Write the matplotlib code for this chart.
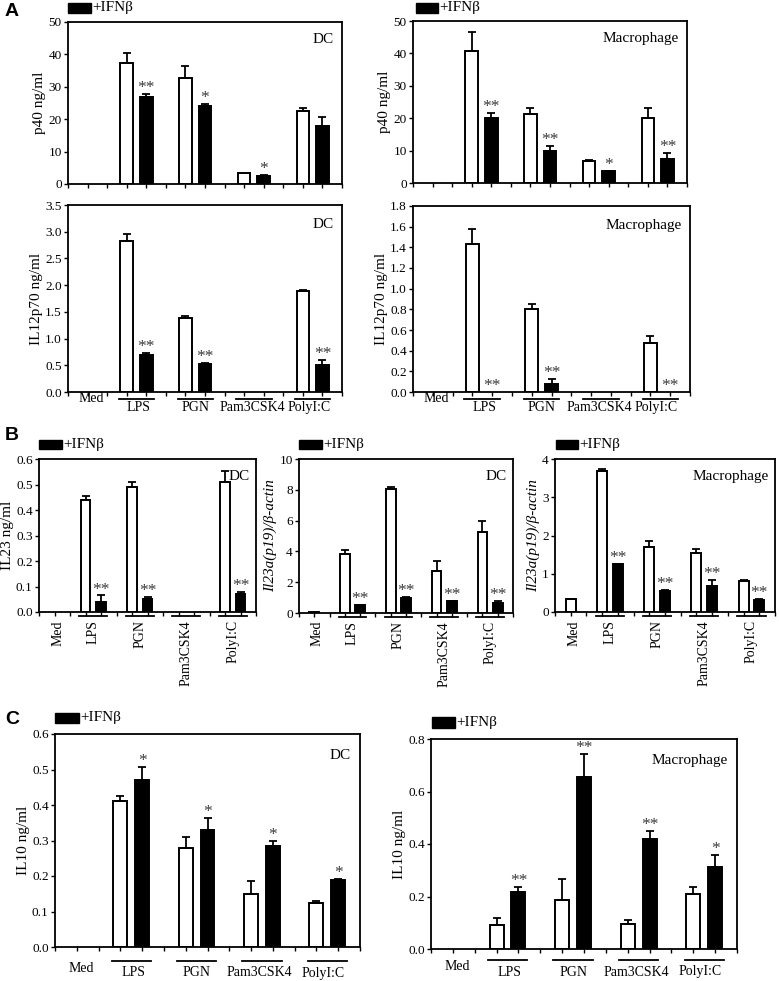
import matplotlib
matplotlib.use('Agg')
import matplotlib.pyplot as plt
from matplotlib.patches import Rectangle

W, H = 779, 981
plt.rcParams['font.family'] = ['Liberation Serif', 'DejaVu Serif']

categories = ["Med", "LPS", "PGN", "Pam3CSK4", "PolyI:C"]
legend_label = "+IFNβ"

# ---- Panel A: p40 ----
p40_dc_ctrl = [0, 37.3, 32.7, 3.5, 22.5]
p40_dc_ctrl_err = [0, 3.0, 3.8, 0, 1.1]
p40_dc_ifn = [0, 26.9, 24.0, 2.6, 18.0]
p40_dc_ifn_err = [0, 0.9, 0.6, 0.3, 2.6]
p40_dc_sig = ["", "**", "*", "*", ""]

p40_mac_ctrl = [0, 40.8, 21.3, 6.8, 20.1]
p40_mac_ctrl_err = [0, 5.9, 1.7, 0.3, 2.9]
p40_mac_ifn = [0, 20.0, 10.0, 3.6, 7.4]
p40_mac_ifn_err = [0, 1.5, 1.5, 0.2, 1.8]
p40_mac_sig = ["", "**", "**", "*", "**"]

# ---- Panel A: IL12p70 ----
il12_dc_ctrl = [0, 2.83, 1.39, 0, 1.89]
il12_dc_ctrl_err = [0, 0.12, 0.03, 0, 0.01]
il12_dc_ifn = [0, 0.69, 0.525, 0, 0.51]
il12_dc_ifn_err = [0, 0.04, 0.015, 0, 0.09]
il12_dc_sig = ["", "**", "**", "", "**"]

il12_mac_ctrl = [0, 1.43, 0.80, 0, 0.474]
il12_mac_ctrl_err = [0, 0.15, 0.05, 0, 0.066]
il12_mac_ifn = [0, 0, 0.077, 0, 0]
il12_mac_ifn_err = [0, 0, 0.053, 0, 0]
il12_mac_sig = ["", "**", "**", "", "**"]

# ---- Panel B ----
il23_dc_ctrl = [0, 0.439, 0.491, 0, 0.51]
il23_dc_ctrl_err = [0, 0.016, 0.017, 0, 0.043]
il23_dc_ifn = [0, 0.040, 0.052, 0, 0.069]
il23_dc_ifn_err = [0, 0.025, 0.008, 0, 0.011]
il23_dc_sig = ["", "**", "**", "", "**"]

p19_dc_ctrl = [0.08, 3.84, 8.03, 2.73, 5.29]
p19_dc_ctrl_err = [0, 0.28, 0.17, 0.63, 0.70]
p19_dc_ifn = [0, 0.50, 0.98, 0.76, 0.65]
p19_dc_ifn_err = [0, 0.04, 0.06, 0.02, 0.13]
p19_dc_sig = ["", "**", "**", "**", "**"]

p19_mac_ctrl = [0.33, 3.68, 1.70, 1.53, 0.82]
p19_mac_ctrl_err = [0.02, 0.05, 0.16, 0.11, 0.02]
p19_mac_ifn = [0, 1.25, 0.54, 0.69, 0.31]
p19_mac_ifn_err = [0, 0.01, 0.03, 0.15, 0.04]
p19_mac_sig = ["", "**", "**", "**", "**"]

# ---- Panel C: IL10 ----
il10_dc_ctrl = [0, 0.411, 0.279, 0.149, 0.124]
il10_dc_ctrl_err = [0, 0.013, 0.032, 0.037, 0.005]
il10_dc_ifn = [0, 0.471, 0.330, 0.285, 0.188]
il10_dc_ifn_err = [0, 0.035, 0.033, 0.015, 0.003]
il10_dc_sig = ["", "*", "*", "*", "*"]

il10_mac_ctrl = [0, 0.093, 0.185, 0.095, 0.209]
il10_mac_ctrl_err = [0, 0.024, 0.082, 0.017, 0.027]
il10_mac_ifn = [0, 0.216, 0.657, 0.420, 0.311]
il10_mac_ifn_err = [0, 0.021, 0.085, 0.030, 0.048]
il10_mac_sig = ["", "**", "**", "**", "*"]

# ---- layout ----
group_pos = [1, 3, 6, 9, 12]
label_x = [1.2, 3.6, 6.5, 9.4, 12.3]

fig = plt.figure(figsize=(W / 100, H / 100), dpi=100)


def add_ax(l, t, r, b):
    return fig.add_axes([l / W, 1 - b / H, (r - l) / W, (b - t) / H])


def legend_at(x0, y0, x1, y1):
    fig.patches.append(Rectangle((x0 / W, 1 - y1 / H), (x1 - x0) / W, (y1 - y0) / H,
                                 transform=fig.transFigure, facecolor='black',
                                 edgecolor='black'))
    fig.text((x1 + 1) / W, 1 - (y0 + y1) / 2 / H, legend_label, fontsize=11,
             va='center', ha='left')


def panel(rect, ctrl, ctrl_err, ifn, ifn_err, sig, ylim, yticks, fmt, ylabel,
          cell, italic=False, xmode=None, offs=None):
    l, t, r, b = rect
    ax = add_ax(l, t, r, b)
    hpx = b - t
    bw = 0.64
    for i in range(len(categories)):
        xo = group_pos[i]
        xf = xo + 1
        if ctrl[i] > 0:
            ax.bar(xo, ctrl[i], width=bw, facecolor='white', edgecolor='black',
                   linewidth=1.4, zorder=2)
            if ctrl_err[i] > 0:
                ax.errorbar(xo, ctrl[i], yerr=[[0], [ctrl_err[i]]], fmt='none',
                            ecolor='black', elinewidth=1.3, capsize=3,
                            capthick=1.3, zorder=3)
        if ifn[i] > 0:
            ax.bar(xf, ifn[i], width=bw, facecolor='black', edgecolor='black',
                   linewidth=1.4, zorder=2)
            if ifn_err[i] > 0:
                ax.errorbar(xf, ifn[i], yerr=[[0], [ifn_err[i]]], fmt='none',
                            ecolor='black', elinewidth=1.3, capsize=3,
                            capthick=1.3, zorder=3)
        if sig[i]:
            top = ifn[i] + ifn_err[i]
            ax.annotate(sig[i], (xf, top), xytext=(0, -1.5), textcoords='offset points',
                        ha='center', va='bottom', fontsize=12.5, color='#3a3a3a')
    ax.set_xlim(0, 14)
    ax.set_xticks(range(15))
    ax.set_xticklabels([])
    ax.set_ylim(*ylim)
    ax.set_yticks(yticks)
    ax.set_yticklabels([fmt.format(v) for v in yticks], fontsize=9.5)
    ax.tick_params(axis='both', direction='out', length=3, width=1.0, pad=1.5)
    for s in ax.spines.values():
        s.set_linewidth(1.3)
    ax.set_ylabel(ylabel, fontsize=11, style='italic' if italic else 'normal',
                  labelpad=1.5)
    ax.text(0.97, 0.93, cell, transform=ax.transAxes, ha='right', va='top',
            fontsize=11)
    tr = ax.get_xaxis_transform()
    if xmode == 'h':
        d_line, d_med, d_lab = offs
        for i, cat in enumerate(categories):
            if i == 0:
                ax.text(label_x[i], -d_med / hpx, cat, transform=tr, ha='center',
                        va='center', fontsize=10)
            else:
                xo = group_pos[i]
                ax.plot([xo - 0.4, xo + 1.4], [-d_line / hpx] * 2, transform=tr,
                        color='black', lw=1.3, clip_on=False)
                ax.text(label_x[i], -d_lab / hpx, cat, transform=tr, ha='center',
                        va='center', fontsize=10)
    elif xmode == 'v':
        for i, cat in enumerate(categories):
            xo = group_pos[i]
            if i > 0:
                ax.plot([xo - 0.4, xo + 1.4], [-4 / hpx] * 2, transform=tr,
                        color='black', lw=1.3, clip_on=False)
                lx = xo + 0.5
            else:
                lx = 1.2
            ax.text(lx, -8 / hpx, cat, transform=tr, ha='center', va='top',
                    rotation=90, fontsize=10)
    return ax


# Panel A
panel((68, 22, 342, 184), p40_dc_ctrl, p40_dc_ctrl_err, p40_dc_ifn, p40_dc_ifn_err,
      p40_dc_sig, (0, 50), [0, 10, 20, 30, 40, 50], "{:.0f}", "p40 ng/ml", "DC")
panel((413, 21, 687, 183), p40_mac_ctrl, p40_mac_ctrl_err, p40_mac_ifn,
      p40_mac_ifn_err, p40_mac_sig, (0, 50), [0, 10, 20, 30, 40, 50], "{:.0f}",
      "p40 ng/ml", "Macrophage")
panel((68, 205, 342, 392), il12_dc_ctrl, il12_dc_ctrl_err, il12_dc_ifn,
      il12_dc_ifn_err, il12_dc_sig, (0, 3.5),
      [0, 0.5, 1.0, 1.5, 2.0, 2.5, 3.0, 3.5], "{:.1f}", "IL12p70 ng/ml", "DC",
      xmode='h', offs=(7, 6, 15))
panel((413, 206, 690, 392), il12_mac_ctrl, il12_mac_ctrl_err, il12_mac_ifn,
      il12_mac_ifn_err, il12_mac_sig, (0, 1.8),
      [0, 0.2, 0.4, 0.6, 0.8, 1.0, 1.2, 1.4, 1.6, 1.8], "{:.1f}", "IL12p70 ng/ml",
      "Macrophage", xmode='h', offs=(7, 6, 15))
legend_at(68, 3, 91, 13)
legend_at(416, 3, 438, 13)

# Panel B
panel((39, 459, 256, 612), il23_dc_ctrl, il23_dc_ctrl_err, il23_dc_ifn,
      il23_dc_ifn_err, il23_dc_sig, (0, 0.6),
      [0, 0.1, 0.2, 0.3, 0.4, 0.5, 0.6], "{:.1f}", "IL23 ng/ml", "DC", xmode='v')
panel((299, 459, 513, 613), p19_dc_ctrl, p19_dc_ctrl_err, p19_dc_ifn,
      p19_dc_ifn_err, p19_dc_sig, (0, 10), [0, 2, 4, 6, 8, 10], "{:.0f}",
      "Il23a(p19)/β-actin", "DC", italic=True, xmode='v')
panel((555, 459, 775, 612), p19_mac_ctrl, p19_mac_ctrl_err, p19_mac_ifn,
      p19_mac_ifn_err, p19_mac_sig, (0, 4), [0, 1, 2, 3, 4], "{:.0f}",
      "Il23a(p19)/β-actin", "Macrophage", italic=True, xmode='v')
legend_at(39, 440, 62, 449)
legend_at(299, 440, 322, 449)
legend_at(556, 440, 578, 449)

# Panel C
panel((55, 734, 360, 947), il10_dc_ctrl, il10_dc_ctrl_err, il10_dc_ifn,
      il10_dc_ifn_err, il10_dc_sig, (0, 0.6),
      [0, 0.1, 0.2, 0.3, 0.4, 0.5, 0.6], "{:.1f}", "IL10 ng/ml", "DC",
      xmode='h', offs=(14, 21, 26))
panel((431, 739, 737, 949), il10_mac_ctrl, il10_mac_ctrl_err, il10_mac_ifn,
      il10_mac_ifn_err, il10_mac_sig, (0, 0.8), [0, 0.2, 0.4, 0.6, 0.8], "{:.1f}",
      "IL10 ng/ml", "Macrophage", xmode='h', offs=(11, 18, 23))
legend_at(55, 713, 79, 723)
legend_at(432, 717, 455, 728)

# Panel letters
for letter, y in [("A", 3), ("B", 427), ("C", 711)]:
    fig.text(5 / W, 1 - y / H, letter, fontsize=14, fontweight='bold',
             family=['Liberation Sans', 'DejaVu Sans'], ha='left', va='top')

fig.savefig('out.png', dpi=100)
